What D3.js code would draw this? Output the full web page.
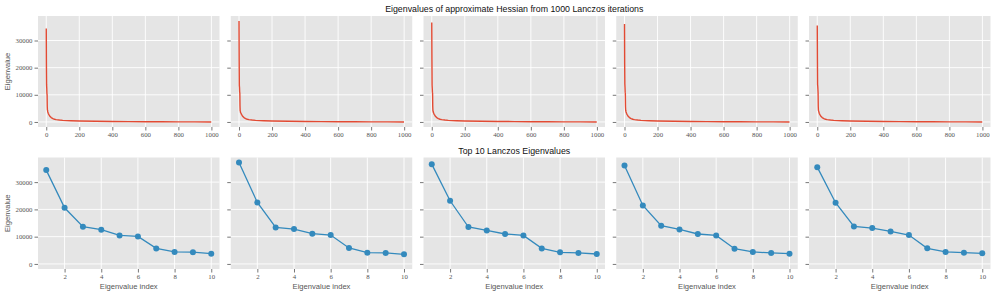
<!DOCTYPE html>
<html>
  <meta charset="utf-8">
  <head>
  <style>
    body { margin: 0; background: #fff; }
    svg text { font-family: "Liberation Sans", "DejaVu Sans", sans-serif; }
    svg .tick text { font-family: "Liberation Serif", "DejaVu Serif", serif; }
  </style>
  </head>
  <body>
    <div id="chart"></div>
    <script src="https://cdn.jsdelivr.net/npm/d3@7"></script>
    <script>
    'use strict';

    // top 10 lanczos eigenvalues for each of the 5 runs
    var ranks = [1, 2, 3, 4, 5, 6, 7, 8, 9, 10];
    var top10 = [
      [34400, 20600, 13650, 12550, 10460, 10100, 5700, 4390, 4330, 3780],
      [37170, 22540, 13400, 12800, 11090, 10600, 5850, 4130, 4020, 3530],
      [36590, 23160, 13540, 12300, 10980, 10460, 5700, 4240, 4020, 3650],
      [36100, 21440, 14010, 12660, 10980, 10460, 5600, 4390, 4020, 3780],
      [35490, 22430, 13760, 13170, 11930, 10600, 5720, 4390, 4130, 3900]
    ];
    // tail of the spectrum (index > 9), same shape in every run
    var tailIdx  = [12, 15, 20, 25, 30, 40, 50, 60, 80, 100, 150, 200, 300, 400, 500, 600, 700, 800, 900, 999];
    var tailVals = [3200, 2800, 2300, 1900, 1600, 1250, 1000, 850, 700, 600, 450, 350, 250, 180, 130, 90, 60, 40, 20, 2];

    var xTicksTop = [0, 200, 400, 600, 800, 1000];
    var xTicksBot = [2, 4, 6, 8, 10];
    var yTicks = [0, 10000, 20000, 30000];

    var W = 996, H = 296;
    var RED = '#E24A33', BLUE = '#348ABD', BG = '#E5E5E5', TXT = '#555555';
    var left0 = 38, step = 192.75, pw = 181.5;
    var rows = [{ top: 16, bot: 127 }, { top: 157.5, bot: 269 }];

    var svg = d3.select('#chart').append('svg')
      .attr('width', W).attr('height', H);

    // full spectrum per run = top10 + shared tail
    var spectra = top10.map(function(t) {
      var pts = t.map(function(v, i) { return [i, v]; });
      return pts.concat(tailIdx.map(function(ix, i) { return [ix, tailVals[i]]; }));
    });

    var all = [].concat.apply([], spectra.map(function(s) { return s.map(function(p) { return p[1]; }); }));
    var ymin = d3.min(all), ymax = d3.max(all), pad = (ymax - ymin) * 0.05;
    var yDom = [ymin - pad, ymax + pad];

    function panel(row, k, xDom, xTicks, firstCol) {
      var x0 = left0 + k * step;
      var r = rows[row];
      var x = d3.scaleLinear().domain(xDom).range([x0, x0 + pw]);
      var y = d3.scaleLinear().domain(yDom).range([r.bot, r.top]);
      var g = svg.append('g');

      g.append('rect').attr('x', x0).attr('y', r.top)
        .attr('width', pw).attr('height', r.bot - r.top).attr('fill', BG);

      g.selectAll('.gx').data(xTicks).enter().append('line')
        .attr('x1', function(d) { return x(d); }).attr('x2', function(d) { return x(d); })
        .attr('y1', r.top).attr('y2', r.bot)
        .attr('stroke', '#fff').attr('stroke-width', 0.9);
      g.selectAll('.gy').data(yTicks).enter().append('line')
        .attr('y1', function(d) { return y(d); }).attr('y2', function(d) { return y(d); })
        .attr('x1', x0).attr('x2', x0 + pw)
        .attr('stroke', '#fff').attr('stroke-width', 0.9);

      var xa = d3.axisBottom(x).tickValues(xTicks).tickSize(3.5).tickPadding(2)
        .tickFormat(d3.format('d'));
      var ya = d3.axisLeft(y).tickValues(yTicks).tickSize(3.5).tickPadding(2)
        .tickFormat(firstCol ? d3.format('d') : function() { return ''; });

      var gx = g.append('g').attr('transform', 'translate(0,' + r.bot + ')').call(xa);
      var gy = g.append('g').attr('transform', 'translate(' + x0 + ',0)').call(ya);
      [gx, gy].forEach(function(a) {
        a.attr('font-family', null);
        a.select('.domain').remove();
        a.selectAll('.tick line').attr('stroke', TXT).attr('stroke-width', 0.8);
        a.selectAll('.tick text').attr('fill', TXT).style('font-size', '6.8px');
      });
      return { x: x, y: y, g: g, x0: x0, r: r };
    }

    var line = d3.line();

    spectra.forEach(function(s, k) {
      var p = panel(0, k, [-50, 1049], xTicksTop, k === 0);
      p.g.append('path')
        .attr('d', line(s.map(function(d) { return [p.x(d[0]), p.y(d[1])]; })))
        .attr('fill', 'none').attr('stroke', RED).attr('stroke-width', 1.4)
        .attr('stroke-linejoin', 'round');
    });

    top10.forEach(function(t, k) {
      var p = panel(1, k, [0.55, 10.45], xTicksBot, k === 0);
      var pts = t.map(function(v, i) { return [p.x(ranks[i]), p.y(v)]; });
      p.g.append('path').attr('d', line(pts))
        .attr('fill', 'none').attr('stroke', BLUE).attr('stroke-width', 1.3);
      p.g.selectAll('circle').data(pts).enter().append('circle')
        .attr('cx', function(d) { return d[0]; }).attr('cy', function(d) { return d[1]; })
        .attr('r', 3).attr('fill', BLUE);
      p.g.append('text').attr('x', p.x0 + pw / 2).attr('y', 289)
        .attr('text-anchor', 'middle').attr('fill', TXT).style('font-size', '7.6px')
        .text('Eigenvalue index');
    });

    // y labels
    rows.forEach(function(r) {
      svg.append('text')
        .attr('transform', 'translate(10,' + ((r.top + r.bot) / 2) + ') rotate(-90)')
        .attr('text-anchor', 'middle').attr('fill', TXT).style('font-size', '7.6px')
        .text('Eigenvalue');
    });

    // titles centred over the middle column
    var cx = left0 + 2 * step + pw / 2;
    svg.append('text').attr('x', cx).attr('y', 11.5).attr('text-anchor', 'middle')
      .attr('fill', '#111').style('font-size', '8.8px')
      .text('Eigenvalues of approximate Hessian from 1000 Lanczos iterations');
    svg.append('text').attr('x', cx).attr('y', 153.5).attr('text-anchor', 'middle')
      .attr('fill', '#111').style('font-size', '8.8px')
      .text('Top 10 Lanczos Eigenvalues');
    </script>
  </body>
</html>
